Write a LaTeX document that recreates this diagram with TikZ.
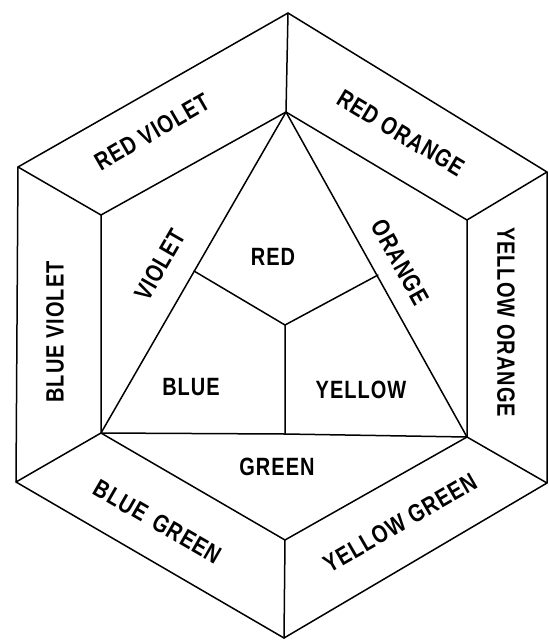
\documentclass[tikz,border=0pt]{standalone}
\usepackage{fontspec}
\setmainfont[FakeStretch=0.8,LetterSpace=4]{Liberation Sans Bold}
\begin{document}
\begin{tikzpicture}[x=1pt,y=-1pt,
  edge/.style={line width=1.5pt,line join=round,line cap=round},
  lbl/.style={font=\fontsize{25}{25}\selectfont,inner sep=0pt}]
\useasboundingbox (0,0) rectangle (549,641);
% outer hexagon
\coordinate (OT) at (288,13);
\coordinate (OUL) at (18,167);
\coordinate (OUR) at (547,172);
\coordinate (OLL) at (16,482);
\coordinate (OLR) at (547,483);
\coordinate (OB) at (284,638);
% inner hexagon
\coordinate (IT) at (286,112);
\coordinate (IUL) at (101,215);
\coordinate (IUR) at (467,220);
\coordinate (ILL) at (101,433);
\coordinate (ILR) at (467,437);
\coordinate (IB) at (285,540);
% triangle internals
\coordinate (C) at (285,325);
\coordinate (PL) at (194,271);
\coordinate (PR) at (378,275);
\coordinate (PB) at (285,434);
\draw[edge] (OT) -- (OUR) -- (OLR) -- (OB) -- (OLL) -- (OUL) -- cycle;
\draw[edge] (IT) -- (IUR) -- (ILR) -- (IB) -- (ILL) -- (IUL) -- cycle;
\draw[edge] (OT) -- (IT) (OUR) -- (IUR) (OLR) -- (ILR) (OB) -- (IB) (OLL) -- (ILL) (OUL) -- (IUL);
\draw[edge] (ILL) -- (IT) -- (ILR) (ILL) -- (PB) -- (ILR);
\draw[edge] (PL) -- (C) -- (PR) (C) -- (PB);
% labels
\node[lbl,rotate=30] (rv) at (152,132) {RED VIOLET};
\node[lbl,rotate=-31] (ro) at (401,133) {RED ORANGE};
\node[lbl,rotate=60] (v) at (160,265) {VIOLET};
\node[lbl] (r) at (273,257) {RED};
\node[lbl,rotate=-61] (o) at (400,262) {ORANGE};
\node[lbl,rotate=-90] (yo) at (506,322) {YELLOW ORANGE};
\node[lbl,rotate=90] (bv) at (55,332) {BLUE VIOLET};
\node[lbl] (b) at (191,387) {BLUE};
\node[lbl] (y) at (361,390) {YELLOW};
\node[lbl] (g) at (277,467) {GREEN};
\node[lbl,rotate=-30] (bg) at (158,522) {BLUE\hspace{10pt}GREEN};
\node[lbl,rotate=30] (yg) at (400,523) {YELLOW GREEN};
\end{tikzpicture}
\end{document}
